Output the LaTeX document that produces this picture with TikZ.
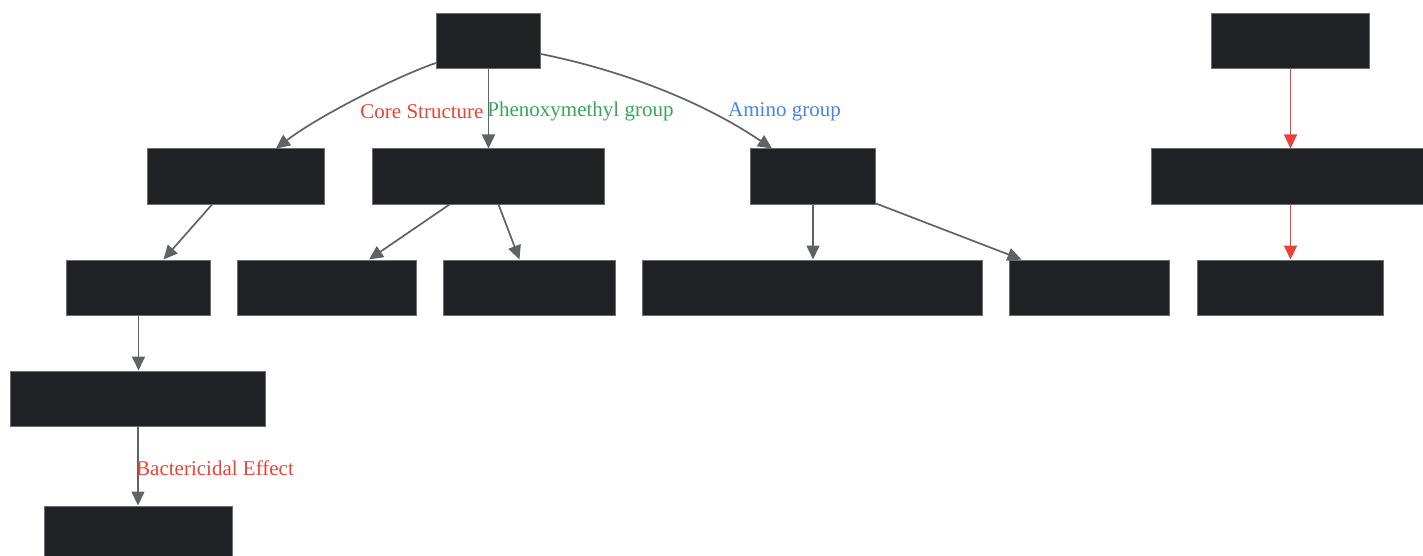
\documentclass[tikz,border=0pt]{standalone}
\usepackage{fontspec}
\setmainfont{Liberation Serif}
\usetikzlibrary{arrows.meta}
\definecolor{boxfill}{HTML}{202124}
\definecolor{boxline}{HTML}{6B6D70}
\definecolor{edgegrey}{HTML}{5F6368}
\definecolor{gred}{HTML}{EA4335}
\definecolor{ggreen}{HTML}{34A853}
\definecolor{gblue}{HTML}{4285F4}
\tikzset{
  box/.style={draw=boxline, fill=boxfill, line width=1pt, inner sep=0pt, minimum height=55pt},
  conn/.style={draw=edgegrey, line width=1.7pt, -{Triangle[length=14pt,width=13pt]}},
  redconn/.style={draw=gred, line width=1.7pt, -{Triangle[length=14pt,width=13pt]}},
  lbl/.style={font=\fontsize{21}{25}\selectfont, inner sep=0pt}
}
\begin{document}
\begin{tikzpicture}[x=1pt,y=-1pt]
\useasboundingbox (0,0) rectangle (1423,556);
\node[box, minimum width=104pt] (A) at (488.5,41.5) {};
\node[box, minimum width=177pt] (B) at (236,176.5) {};
\node[box, minimum width=232pt] (C) at (488.5,176.5) {};
\node[box, minimum width=125pt] (D) at (813,176.5) {};
\node[box, minimum width=158pt] (E) at (1290.5,41.5) {};
\node[box, minimum width=272pt] (F) at (1287.5,176.5) {};
\node[box, minimum width=144pt] (G) at (138.5,287.5) {};
\node[box, minimum width=179pt] (H) at (327,287.5) {};
\node[box, minimum width=172pt] (I) at (529.5,287.5) {};
\node[box, minimum width=340pt] (J) at (812.5,287.5) {};
\node[box, minimum width=160pt] (K) at (1089.5,287.5) {};
\node[box, minimum width=186pt] (L) at (1290.5,287.5) {};
\node[box, minimum width=255pt] (M) at (138,398.5) {};
\node[box, minimum width=188pt] (N) at (138.5,533.5) {};

\draw[conn] ([yshift=-21.5pt]A.west) .. controls (400,75) and (320,115) .. ([xshift=40pt]B.north);
\draw[conn] (A.south) -- (C.north);
\draw[conn] ([yshift=-12.5pt]A.east) .. controls (620,70) and (700,100) .. ([xshift=-41pt]D.north);
\draw[conn] ([xshift=-24pt]B.south) -- ([xshift=25pt]G.north);
\draw[conn] ([xshift=-39pt]C.south) -- ([xshift=42pt]H.north);
\draw[conn] ([xshift=10pt]C.south) -- ([xshift=-10pt]I.north);
\draw[conn] (D.south) -- (D.south |- J.north);
\draw[conn] ([yshift=1pt]D.south east) -- ([xshift=-68pt]K.north);
\draw[redconn] (E.south) -- (E.south |- F.north);
\draw[redconn] (E.south |- F.south) -- (L.north);
\draw[conn] (G.south) -- (G.south |- M.north);
\draw[conn] (M.south) -- (M.south |- N.north);

\node[lbl, text=gred] (l1) at (422,111.5) {Core Structure};
\node[lbl, text=ggreen] (l2) at (580.5,111.5) {Phenoxymethyl group};
\node[lbl, text=gblue] (l3) at (784.5,111.5) {Amino group};
\node[lbl, text=gred, anchor=west] (l4) at (136,468.5) {Bactericidal Effect};
\end{tikzpicture}
\end{document}
